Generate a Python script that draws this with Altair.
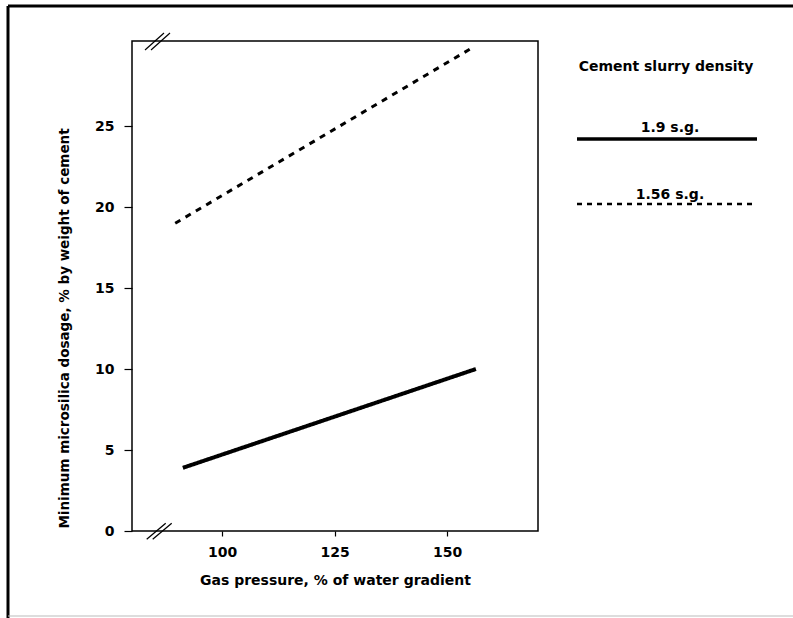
import altair as alt
import pandas as pd

# Minimum microsilica dosage vs gas pressure, for two cement slurry densities
densities = ["1.9 s.g.", "1.56 s.g."]
pressure_19 = [91.3, 156.4]
dosage_19 = [3.9, 10.0]
pressure_156 = [89.6, 155.1]
dosage_156 = [19.0, 29.75]

y_ticks = [0, 5, 10, 15, 20, 25]
x_ticks = [100, 125, 150]

FONT = "DejaVu Sans"
W, H = 406, 490

lines = pd.DataFrame({
    "pressure": pressure_19 + pressure_156,
    "dosage": dosage_19 + dosage_156,
    "density": [densities[0]] * len(pressure_19) + [densities[1]] * len(pressure_156),
})

x_scale = alt.Scale(domain=[80, 170.2], nice=False, zero=False)
y_scale = alt.Scale(domain=[0, 30.25], nice=False)

curves = alt.Chart(lines).mark_line(color="black", strokeCap="butt").encode(
    x=alt.X("pressure:Q", scale=x_scale,
            axis=alt.Axis(values=x_ticks, title="Gas pressure, % of water gradient",
                          titleY=42, titleFontSize=14)),
    y=alt.Y("dosage:Q", scale=y_scale,
            axis=alt.Axis(values=y_ticks,
                          title="Minimum microsilica dosage, % by weight of cement",
                          titleX=-61, titleY=287, titleFontSize=13.5)),
    detail="density:N",
    strokeDash=alt.StrokeDash("density:N", scale=alt.Scale(domain=densities, range=[[1, 0], [6, 6]]), legend=None),
    strokeWidth=alt.StrokeWidth("density:N", scale=alt.Scale(domain=densities, range=[4, 3]), legend=None),
)

one = pd.DataFrame({"k": [0]})


def seg(x1, y1, x2, y2, width=1.2, color="black", dash=None):
    kw = dict(color=color, strokeWidth=width)
    if dash:
        kw["strokeDash"] = dash
    return alt.Chart(one).mark_rule(**kw).encode(
        x=alt.value(x1), y=alt.value(y1), x2=alt.value(x2), y2=alt.value(y2))


def label(text, x, y, size=14, weight="bold"):
    return alt.Chart(one).mark_text(font=FONT, fontSize=size, fontWeight=weight,
                                    color="black", align="center", baseline="middle").encode(
        x=alt.value(x), y=alt.value(y), text=alt.value(text))


# axis break marks on the bottom and top edges of the frame
breaks = [
    seg(14.7, 498.3, 33.7, 482.3), seg(20.7, 498.3, 39.7, 482.3),
    seg(13, 9, 32, -8), seg(19, 9, 38, -8),
]

# legend drawn beside the plot
legend = [
    label("Cement slurry density", 534, 26),
    label(densities[0], 538, 87),
    seg(445, 98, 625, 98, width=3.5),
    label(densities[1], 538, 154),
    seg(445, 163, 622, 163, width=2.5, dash=[5, 5]),
]

# outer frame of the figure
frame = [
    seg(-124, -35, -124, 577, width=3),
    seg(-124, -35, 661, -35, width=3),
    seg(-124, 575, 661, 575, width=1, color="#bbbbbb"),
]

chart = alt.layer(curves, *breaks, *legend, *frame).properties(
    width=W, height=H,
    autosize=alt.AutoSizeParams(type="none"),
    padding={"left": 132, "top": 41, "right": 255, "bottom": 87},
    background="white",
).configure_view(
    stroke="black", strokeWidth=1.5,
).configure_axis(
    domain=False, grid=False,
    tickColor="black", tickWidth=1.2,
    labelFont=FONT, labelFontSize=14, labelFontWeight="bold", labelColor="black",
    titleFont=FONT, titleFontWeight="bold", titleColor="black",
).configure_axisY(
    tickSize=8, labelPadding=10,
).configure_axisX(
    tickSize=5, labelPadding=9,
)

chart.save("out.html", embed_options={"renderer": "svg", "actions": False})
